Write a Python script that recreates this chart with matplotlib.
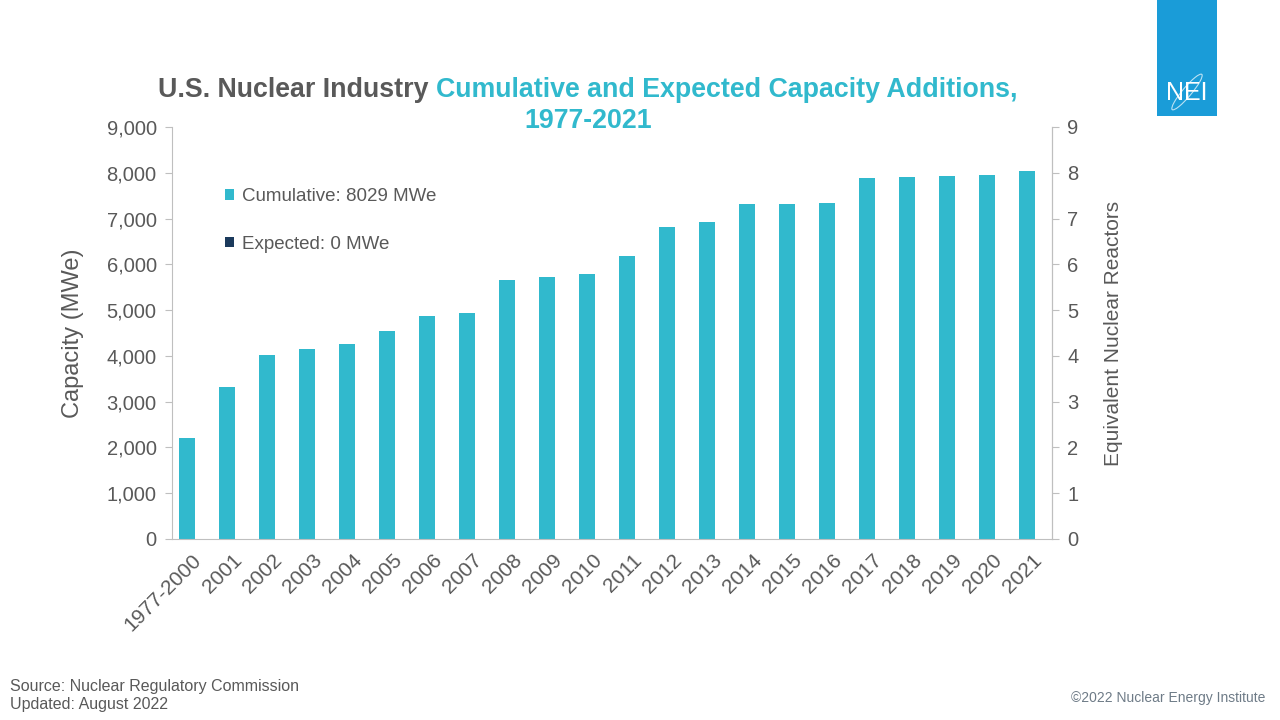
import matplotlib
matplotlib.use("Agg")
import matplotlib.pyplot as plt
import numpy as np
from matplotlib import font_manager
from matplotlib.patches import Ellipse

names = {f.name for f in font_manager.fontManager.ttflist}
BASE = "Liberation Sans"
NARROW = "Liberation Sans Narrow" if "Liberation Sans Narrow" in names else BASE
plt.rcParams['font.family'] = [BASE, 'DejaVu Sans']

categories = ["1977-2000", "2001", "2002", "2003", "2004", "2005", "2006", "2007",
              "2008", "2009", "2010", "2011", "2012", "2013", "2014", "2015",
              "2016", "2017", "2018", "2019", "2020", "2021"]
cumulative = [2200, 3330, 4020, 4160, 4250, 4540, 4870, 4940,
              5660, 5720, 5790, 6180, 6820, 6930, 7320, 7320,
              7340, 7890, 7910, 7920, 7960, 8029]
expected = [0] * len(categories)
left_ticks = [0, 1000, 2000, 3000, 4000, 5000, 6000, 7000, 8000, 9000]
right_ticks = [0, 1, 2, 3, 4, 5, 6, 7, 8, 9]

TEAL = "#31B9CD"
NAVY = "#1B3A5C"
GRAY = "#595959"
SPINE = "#BFBFBF"

W, H = 1280, 720
fig = plt.figure(figsize=(12.8, 7.2), dpi=100)
ax = fig.add_axes([172 / W, 1 - 539 / H, (1052 - 172) / W, (539 - 127) / H])

x = np.arange(len(categories))
ax.bar(x - 0.125, cumulative, width=0.4, color=TEAL, label="Cumulative: 8029 MWe")
ax.bar(x + 0.275, expected, width=0.4, color=NAVY, label="Expected: 0 MWe")

ax.set_xlim(-0.5, len(categories) - 0.5)
ax.set_ylim(0, 9000)
ax.set_yticks(left_ticks)
ax.set_yticklabels([f"{v:,}" for v in left_ticks])
ax.set_xticks(x)
ax.set_xticklabels(categories, rotation=45, ha="right", rotation_mode="anchor")
ax.tick_params(axis="x", length=0, pad=8, labelsize=15, colors=GRAY)
ax.tick_params(axis="y", length=5, color=SPINE, labelsize=14.5, labelcolor=GRAY, pad=6)
ax.spines["top"].set_visible(False)
for s in ["left", "right", "bottom"]:
    ax.spines[s].set_color(SPINE)
ax.set_ylabel("Capacity (MWe)", fontsize=17, color=GRAY, labelpad=16)

ax2 = ax.twinx()
ax2.set_ylim(0, 9)
ax2.set_yticks(right_ticks)
ax2.set_yticklabels([str(v) for v in right_ticks])
ax2.tick_params(axis="y", length=5, color=SPINE, labelsize=14.5, labelcolor=GRAY, pad=6)
for s in ["top", "left", "bottom"]:
    ax2.spines[s].set_visible(False)
ax2.spines["right"].set_color(SPINE)
ax2.set_ylabel("Equivalent Nuclear Reactors", fontsize=15, color=GRAY, labelpad=18)

leg = ax.legend(loc="upper left", bbox_to_anchor=(53 / 880, 1 - 61 / 412), frameon=False,
                fontsize=13.5, labelcolor=GRAY, handlelength=0.5, handleheight=0.5,
                handletextpad=0.4, labelspacing=1.63, borderpad=0, borderaxespad=0)

# Title with mixed colours
fig.canvas.draw()
r = fig.canvas.get_renderer()
TS = 19.3
t1 = fig.text(0, 0, "U.S. Nuclear Industry ", fontsize=TS, fontweight="bold",
              color=GRAY, family=[NARROW, 'DejaVu Sans'], va="baseline")
t2 = fig.text(0, 0, "Cumulative and Expected Capacity Additions,", fontsize=TS,
              fontweight="bold", color=TEAL, family=[NARROW, 'DejaVu Sans'], va="baseline")
w1 = t1.get_window_extent(r).width
w2 = t2.get_window_extent(r).width
cx = 588
start = cx - (w1 + w2) / 2
base1 = H - 97
t1.set_position((start / W, base1 / H))
t2.set_position(((start + w1) / W, base1 / H))
fig.text(cx / W, (H - 128) / H, "1977-2021", fontsize=TS, fontweight="bold", color=TEAL,
         family=[NARROW, 'DejaVu Sans'], ha="center", va="baseline")

# Logo
logo = fig.add_axes([1157 / W, 1 - 116 / H, 60 / W, 116 / H])
logo.set_facecolor("#1A9CD8")
logo.set_xlim(0, 60); logo.set_ylim(116, 0)
logo.set_xticks([]); logo.set_yticks([])
for s in logo.spines.values():
    s.set_visible(False)
logo.text(30, 93, "NEI", color="white", fontsize=18, ha="center", va="center",
          family=[NARROW, 'DejaVu Sans'])
logo.add_patch(Ellipse((30, 92), 46, 9, angle=-50, fill=False, ec="white", lw=0.8, alpha=0.7))

# Footer
fig.text(10 / W, 1 - 686 / H, "Source: Nuclear Regulatory Commission", fontsize=11.5,
         color=GRAY, va="center")
fig.text(10 / W, 1 - 705 / H, "Updated: August 2022", fontsize=11.5, color=GRAY, va="center")
fig.text(1265 / W, 1 - 698 / H, "©2022 Nuclear Energy Institute", fontsize=10,
         color="#6E7B87", ha="right", va="center")

fig.savefig("out.png", dpi=100)
